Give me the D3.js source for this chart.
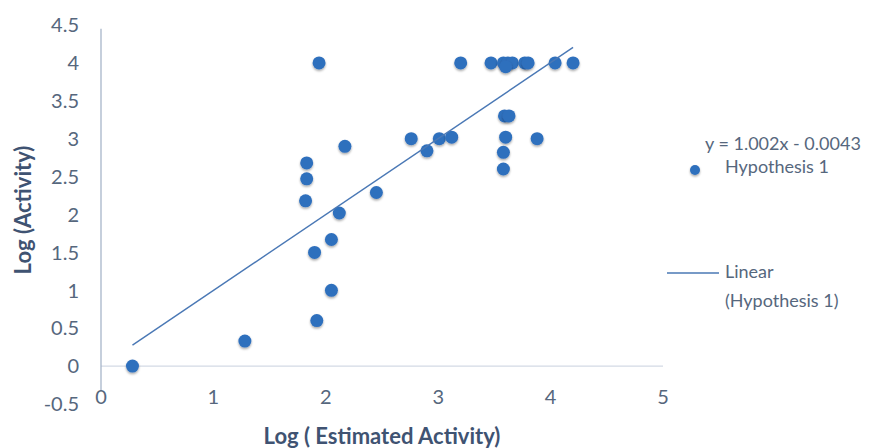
<!DOCTYPE html>
<html>
<head>
<meta charset="utf-8">
<script src="https://cdn.jsdelivr.net/npm/d3@7"></script>
<style>
  body { margin: 0; background: #fff; }
  text { font-family: Lato, "Open Sans", sans-serif; }
</style>
</head>
<body>
<div id="chart"></div>
<script>
// log(estimated activity) vs log(activity)
const estimated = [0.28, 1.28, 1.92, 2.05, 1.9, 2.05, 2.12, 1.82, 1.83, 1.83, 2.17, 2.45,
  2.76, 2.9, 3.01, 3.12, 1.94, 3.2, 3.47, 3.58, 3.62, 3.66, 3.6, 3.77, 3.8, 4.04, 4.2,
  3.59, 3.63, 3.6, 3.58, 3.58, 3.88];
const activity = [0, 0.33, 0.6, 1.0, 1.5, 1.67, 2.02, 2.18, 2.47, 2.68, 2.9, 2.29,
  3.0, 2.84, 3.0, 3.02, 4.0, 4.0, 4.0, 4.0, 4.0, 4.0, 3.95, 4.0, 4.0, 4.0, 4.0,
  3.3, 3.3, 3.02, 2.82, 2.6, 3.0];
const xTicks = [0, 1, 2, 3, 4, 5];
const yTicks = [-0.5, 0, 0.5, 1, 1.5, 2, 2.5, 3, 3.5, 4, 4.5];
const slope = 1.002, intercept = -0.0043;

const width = 891, height = 448;
const svg = d3.select('#chart').append('svg')
  .attr('width', width)
  .attr('height', height);

const x = d3.scaleLinear().domain([0, 5]).range([101, 663]);
const y = d3.scaleLinear().domain([-0.5, 4.5]).range([404, 25]);

const defs = svg.append('defs');
const shadow = defs.append('filter').attr('id', 'shadow')
  .attr('x', '-50%').attr('y', '-50%').attr('width', '200%').attr('height', '200%');
shadow.append('feDropShadow')
  .attr('dx', 0).attr('dy', 1.5).attr('stdDeviation', 1.2)
  .attr('flood-color', '#000').attr('flood-opacity', 0.35);

const tickColor = '#56677d';

// horizontal axis line at y = 0
svg.append('line')
  .attr('x1', x(0)).attr('x2', x(5))
  .attr('y1', y(0)).attr('y2', y(0))
  .style('stroke', '#d3dae5').style('stroke-width', 1.2);

// vertical axis line at x = 0
svg.append('line')
  .attr('x1', x(0)).attr('x2', x(0))
  .attr('y1', y(4.45)).attr('y2', y(-0.33))
  .style('stroke', '#a7b5c9').style('stroke-width', 1.3);

// y tick labels
svg.selectAll('.ytick').data(yTicks).enter().append('text')
  .attr('class', 'ytick')
  .attr('x', 79)
  .attr('y', d => y(d))
  .attr('dy', '0.36em')
  .attr('text-anchor', 'end')
  .style('font-size', '20px')
  .style('fill', tickColor)
  .text(d => d);

// x tick labels, placed low
svg.selectAll('.xtick').data(xTicks).enter().append('text')
  .attr('class', 'xtick')
  .attr('x', d => x(d))
  .attr('y', 397)
  .attr('dy', '0.36em')
  .attr('text-anchor', 'middle')
  .style('font-size', '20px')
  .style('fill', tickColor)
  .text(d => d);

// axis titles
svg.append('text')
  .attr('x', 382).attr('y', 436)
  .attr('dy', '0.36em')
  .attr('text-anchor', 'middle')
  .style('font-size', '22px')
  .style('font-weight', 'bold')
  .style('fill', '#3f5372')
  .text('Log ( Estimated Activity)');

svg.append('text')
  .attr('transform', 'translate(23,210) rotate(-90)')
  .attr('dy', '0.36em')
  .attr('text-anchor', 'middle')
  .style('font-size', '22px')
  .style('font-weight', 'bold')
  .style('fill', '#3f5372')
  .text('Log (Activity)');

// points
const pts = estimated.map((e, i) => [e, activity[i]]);
svg.append('g').selectAll('circle').data(pts).enter().append('circle')
  .attr('cx', d => x(d[0]))
  .attr('cy', d => y(d[1]))
  .attr('r', 6.5)
  .style('fill', '#2f6fbd')
  .attr('filter', 'url(#shadow)');

// linear trendline over the data's x range
const [xMin, xMax] = d3.extent(estimated);
svg.append('path')
  .datum([xMin, xMax].map(v => [v, slope * v + intercept]))
  .attr('d', d3.line().x(d => x(d[0])).y(d => y(d[1])))
  .style('fill', 'none')
  .style('stroke', '#4a78b5')
  .style('stroke-width', 1.4);

// legend
const legendColor = '#56677d';
svg.append('text')
  .attr('x', 705).attr('y', 144).attr('dy', '0.36em')
  .style('font-size', '18px').style('fill', legendColor)
  .text('y = 1.002x - 0.0043');
svg.append('circle')
  .attr('cx', 695).attr('cy', 170).attr('r', 5)
  .style('fill', '#2f6fbd')
  .attr('filter', 'url(#shadow)');
svg.append('text')
  .attr('x', 725).attr('y', 167).attr('dy', '0.36em')
  .style('font-size', '18px').style('fill', legendColor)
  .text('Hypothesis 1');
svg.append('line')
  .attr('x1', 667).attr('x2', 719)
  .attr('y1', 273).attr('y2', 273)
  .style('stroke', '#4a78b5').style('stroke-width', 1.4);
svg.append('text')
  .attr('x', 725).attr('y', 272).attr('dy', '0.36em')
  .style('font-size', '18px').style('fill', legendColor)
  .text('Linear');
svg.append('text')
  .attr('x', 725).attr('y', 301).attr('dy', '0.36em')
  .style('font-size', '18px').style('fill', legendColor)
  .text('(Hypothesis 1)');
</script>
</body>
</html>
